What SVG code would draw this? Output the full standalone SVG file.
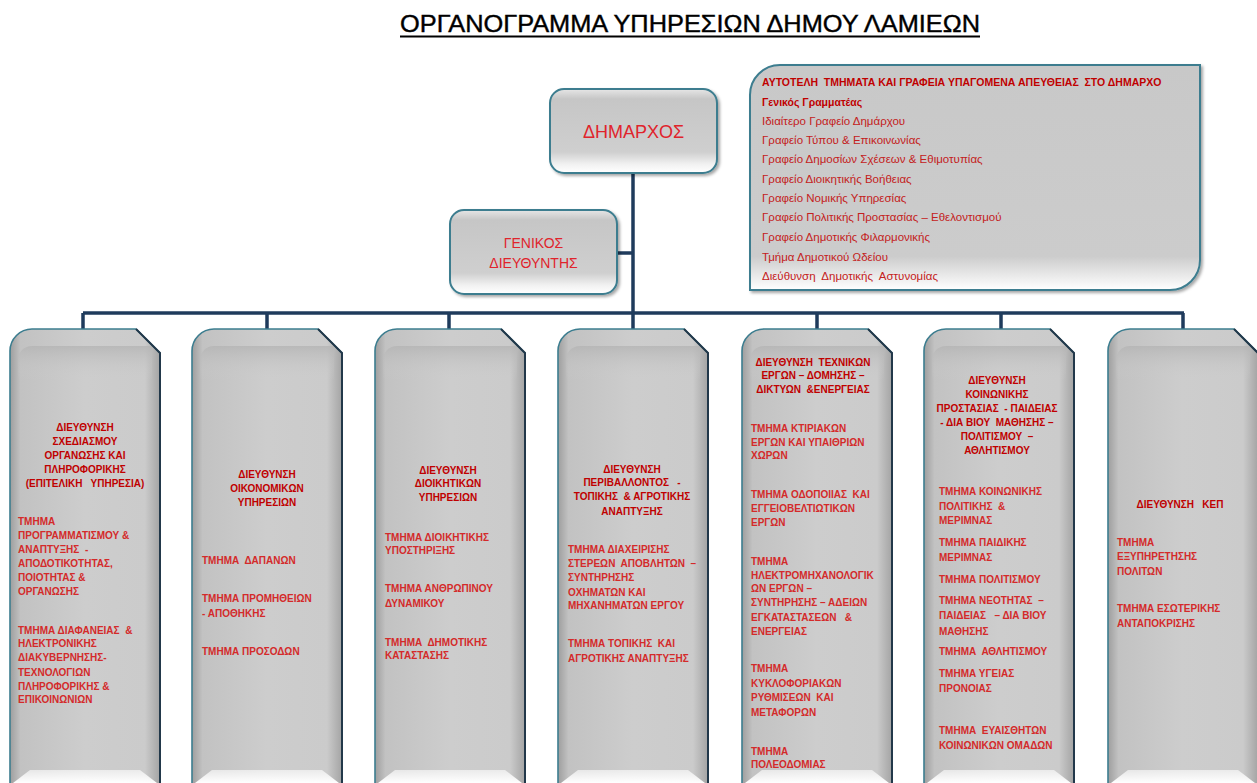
<svg xmlns="http://www.w3.org/2000/svg" width="1257" height="783" viewBox="0 0 1257 783">
<style>
text{font-family:"Liberation Sans",Arial,sans-serif;white-space:pre}
.title{font-size:24px;fill:#000;stroke:#000;stroke-width:0.4}
.top{font-size:18px;fill:#e0242c}
.gd{font-size:14px;fill:#e0242c}
.h{font-size:10px;font-weight:bold;fill:#c00000;text-anchor:middle}
.t{font-size:10px;font-weight:bold;fill:#d42a2a}
.rh{font-size:10.5px;font-weight:bold;fill:#c00000}
.ri{font-size:11.5px;fill:#c42020}
.box{fill:url(#gv);stroke:#3c7d8f;stroke-width:2}
.col{fill:url(#gh);stroke:#3c7d8f;stroke-width:1.6}
.re{fill:none;stroke:#22384a;stroke-width:2}
.cn{fill:none;stroke:#1f3b5c;stroke-width:3.5}
</style>
<defs>
<linearGradient id="gv" x1="0" y1="0" x2="0" y2="1">
<stop offset="0" stop-color="#e6e6e6"/><stop offset="0.12" stop-color="#c6c6c6"/><stop offset="0.75" stop-color="#cfcfcf"/><stop offset="0.9" stop-color="#f2f2f2"/><stop offset="1" stop-color="#ffffff"/>
</linearGradient>
<linearGradient id="gh" x1="0" y1="0" x2="1" y2="0">
<stop offset="0" stop-color="#9e9e9e"/><stop offset="0.07" stop-color="#c2c2c2"/><stop offset="0.5" stop-color="#cdcdcd"/><stop offset="0.9" stop-color="#cbcbcb"/><stop offset="1" stop-color="#a4a4a4"/>
</linearGradient>
<linearGradient id="gtop" x1="0" y1="0" x2="0" y2="1">
<stop offset="0" stop-color="#b4b4b4" stop-opacity="0.8"/><stop offset="1" stop-color="#cdcdcd" stop-opacity="0"/>
</linearGradient>
<linearGradient id="gbot" x1="0" y1="0" x2="0" y2="1">
<stop offset="0" stop-color="#ffffff" stop-opacity="0.6"/><stop offset="1" stop-color="#ffffff"/>
</linearGradient>
<linearGradient id="gr" x1="0" y1="0" x2="0" y2="1">
<stop offset="0" stop-color="#c8c8c8"/><stop offset="0.85" stop-color="#cccccc"/><stop offset="0.95" stop-color="#eeeeee"/><stop offset="1" stop-color="#ffffff"/>
</linearGradient>
<filter id="sh" x="-10%" y="-10%" width="130%" height="130%">
<feDropShadow dx="2" dy="2" stdDeviation="1.5" flood-color="#000" flood-opacity="0.35"/>
</filter>
</defs>
<rect width="1257" height="783" fill="#ffffff"/>
<g id="title">
<text class="title" x="400" y="32" textLength="580" lengthAdjust="spacingAndGlyphs">ΟΡΓΑΝΟΓΡΑΜΜΑ ΥΠΗΡΕΣΙΩΝ ΔΗΜΟΥ ΛΑΜΙΕΩΝ</text>
<line x1="400" y1="36.5" x2="980" y2="36.5" stroke="#000" stroke-width="2"/>
</g>
<g id="connectors">
<path class="cn" d="M633,174 V313"/>
<path class="cn" d="M617,253 H633"/>
<path class="cn" d="M83,313 H1184"/>
<path class="cn" d="M83,313 V329 M267,313 V329 M449,313 V329 M633,313 V329 M817,313 V329 M1001,313 V329 M1183,313 V329"/>
</g>
<g id="dimarxos">
<rect class="box" x="550" y="89" width="167" height="84" rx="14" filter="url(#sh)"/>
<text class="top" x="633.5" y="138" text-anchor="middle">ΔΗΜΑΡΧΟΣ</text>
</g>
<g id="genikos">
<rect class="box" x="450" y="210" width="167" height="84" rx="14" filter="url(#sh)"/>
<text class="gd" x="533.5" y="248" text-anchor="middle">ΓΕΝΙΚΟΣ</text>
<text class="gd" x="533.5" y="268" text-anchor="middle">ΔΙΕΥΘΥΝΤΗΣ</text>
</g>
<g id="autotelh">
<path d="M750,290 V95 A30,30 0 0 1 780,65 H1200 V260 A30,30 0 0 1 1170,290 Z" fill="url(#gr)" stroke="#3c7d8f" stroke-width="2" filter="url(#sh)"/>
<text class="rh" x="762" y="86">ΑΥΤΟΤΕΛΗ  ΤΜΗΜΑΤΑ ΚΑΙ ΓΡΑΦΕΙΑ ΥΠΑΓΟΜΕΝΑ ΑΠΕΥΘΕΙΑΣ  ΣΤΟ ΔΗΜΑΡΧΟ</text>
<text class="rh" x="762" y="106">Γενικός Γραμματέας</text>
<text class="ri" x="762" y="125">Ιδιαίτερο Γραφείο Δημάρχου</text>
<text class="ri" x="762" y="144">Γραφείο Τύπου &amp; Επικοινωνίας</text>
<text class="ri" x="762" y="163">Γραφείο Δημοσίων Σχέσεων &amp; Εθιμοτυπίας</text>
<text class="ri" x="762" y="183">Γραφείο Διοικητικής Βοήθειας</text>
<text class="ri" x="762" y="202">Γραφείο Νομικής Υπηρεσίας</text>
<text class="ri" x="762" y="221">Γραφείο Πολιτικής Προστασίας – Εθελοντισμού</text>
<text class="ri" x="762" y="241">Γραφείο Δημοτικής Φιλαρμονικής</text>
<text class="ri" x="762" y="261">Τμήμα Δημοτικού Ωδείου</text>
<text class="ri" x="762" y="280">Διεύθυνση  Δημοτικής  Αστυνομίας</text>
</g>
<g id="col1" transform="translate(10,0)">
<path class="col" d="M0,800 V351 A22,22 0 0 1 22,329 H126 L150,353 V800 Z"/>
<path d="M8,360 A14,14 0 0 1 22,346 H142 V380 H8 Z" fill="url(#gtop)"/>
<path class="re" d="M126,329 L150,353 V800"/>
<path d="M3,783 L20,770 H130 L147,783 Z" fill="url(#gbot)"/>
</g>
<g id="col1-text">
<text class="h" x="85" y="431">ΔΙΕΥΘΥΝΣΗ</text>
<text class="h" x="85" y="445">ΣΧΕΔΙΑΣΜΟΥ</text>
<text class="h" x="85" y="459">ΟΡΓΑΝΩΣΗΣ ΚΑΙ</text>
<text class="h" x="85" y="473">ΠΛΗΡΟΦΟΡΙΚΗΣ</text>
<text class="h" x="85" y="487">(ΕΠΙΤΕΛΙΚΗ   ΥΠΗΡΕΣΙΑ)</text>
<text class="t" x="18" y="525">ΤΜΗΜΑ</text>
<text class="t" x="18" y="539">ΠΡΟΓΡΑΜΜΑΤΙΣΜΟΥ &amp;</text>
<text class="t" x="18" y="553">ΑΝΑΠΤΥΞΗΣ  -</text>
<text class="t" x="18" y="567">ΑΠΟΔΟΤΙΚΟΤΗΤΑΣ,</text>
<text class="t" x="18" y="581">ΠΟΙΟΤΗΤΑΣ &amp;</text>
<text class="t" x="18" y="595">ΟΡΓΑΝΩΣΗΣ</text>
<text class="t" x="18" y="634">ΤΜΗΜΑ ΔΙΑΦΑΝΕΙΑΣ  &amp;</text>
<text class="t" x="18" y="647">ΗΛΕΚΤΡΟΝΙΚΗΣ</text>
<text class="t" x="18" y="661">ΔΙΑΚΥΒΕΡΝΗΣΗΣ-</text>
<text class="t" x="18" y="676">ΤΕΧΝΟΛΟΓΙΩΝ</text>
<text class="t" x="18" y="690">ΠΛΗΡΟΦΟΡΙΚΗΣ &amp;</text>
<text class="t" x="18" y="703">ΕΠΙΚΟΙΝΩΝΙΩΝ</text>
</g>
<g id="col2" transform="translate(192,0)">
<path class="col" d="M0,800 V351 A22,22 0 0 1 22,329 H126 L150,353 V800 Z"/>
<path d="M8,360 A14,14 0 0 1 22,346 H142 V380 H8 Z" fill="url(#gtop)"/>
<path class="re" d="M126,329 L150,353 V800"/>
<path d="M3,783 L20,770 H130 L147,783 Z" fill="url(#gbot)"/>
</g>
<g id="col2-text">
<text class="h" x="267" y="478">ΔΙΕΥΘΥΝΣΗ</text>
<text class="h" x="267" y="492">ΟΙΚΟΝΟΜΙΚΩΝ</text>
<text class="h" x="267" y="506">ΥΠΗΡΕΣΙΩΝ</text>
<text class="t" x="202" y="564">ΤΜΗΜΑ  ΔΑΠΑΝΩΝ</text>
<text class="t" x="202" y="602">ΤΜΗΜΑ ΠΡΟΜΗΘΕΙΩΝ</text>
<text class="t" x="202" y="617">- ΑΠΟΘΗΚΗΣ</text>
<text class="t" x="202" y="655">ΤΜΗΜΑ ΠΡΟΣΟΔΩΝ</text>
</g>
<g id="col3" transform="translate(375,0)">
<path class="col" d="M0,800 V351 A22,22 0 0 1 22,329 H126 L150,353 V800 Z"/>
<path d="M8,360 A14,14 0 0 1 22,346 H142 V380 H8 Z" fill="url(#gtop)"/>
<path class="re" d="M126,329 L150,353 V800"/>
<path d="M3,783 L20,770 H130 L147,783 Z" fill="url(#gbot)"/>
</g>
<g id="col3-text">
<text class="h" x="448" y="474">ΔΙΕΥΘΥΝΣΗ</text>
<text class="h" x="448" y="487">ΔΙΟΙΚΗΤΙΚΩΝ</text>
<text class="h" x="448" y="501">ΥΠΗΡΕΣΙΩΝ</text>
<text class="t" x="385" y="541">ΤΜΗΜΑ ΔΙΟΙΚΗΤΙΚΗΣ</text>
<text class="t" x="385" y="554">ΥΠΟΣΤΗΡΙΞΗΣ</text>
<text class="t" x="385" y="592">ΤΜΗΜΑ ΑΝΘΡΩΠΙΝΟΥ</text>
<text class="t" x="385" y="607">ΔΥΝΑΜΙΚΟΥ</text>
<text class="t" x="385" y="646">ΤΜΗΜΑ  ΔΗΜΟΤΙΚΗΣ</text>
<text class="t" x="385" y="659">ΚΑΤΑΣΤΑΣΗΣ</text>
</g>
<g id="col4" transform="translate(558,0)">
<path class="col" d="M0,800 V351 A22,22 0 0 1 22,329 H126 L150,353 V800 Z"/>
<path d="M8,360 A14,14 0 0 1 22,346 H142 V380 H8 Z" fill="url(#gtop)"/>
<path class="re" d="M126,329 L150,353 V800"/>
<path d="M3,783 L20,770 H130 L147,783 Z" fill="url(#gbot)"/>
</g>
<g id="col4-text">
<text class="h" x="632" y="473">ΔΙΕΥΘΥΝΣΗ</text>
<text class="h" x="632" y="486">ΠΕΡΙΒΑΛΛΟΝΤΟΣ   -</text>
<text class="h" x="632" y="500">ΤΟΠΙΚΗΣ  &amp; ΑΓΡΟΤΙΚΗΣ</text>
<text class="h" x="632" y="515">ΑΝΑΠΤΥΞΗΣ</text>
<text class="t" x="568" y="553">ΤΜΗΜΑ ΔΙΑΧΕΙΡΙΣΗΣ</text>
<text class="t" x="568" y="567">ΣΤΕΡΕΩΝ  ΑΠΟΒΛΗΤΩΝ  –</text>
<text class="t" x="568" y="581">ΣΥΝΤΗΡΗΣΗΣ</text>
<text class="t" x="568" y="596">ΟΧΗΜΑΤΩΝ ΚΑΙ</text>
<text class="t" x="568" y="609">ΜΗΧΑΝΗΜΑΤΩΝ ΕΡΓΟΥ</text>
<text class="t" x="568" y="647">ΤΜΗΜΑ ΤΟΠΙΚΗΣ  ΚΑΙ</text>
<text class="t" x="568" y="662">ΑΓΡΟΤΙΚΗΣ ΑΝΑΠΤΥΞΗΣ</text>
</g>
<g id="col5" transform="translate(742,0)">
<path class="col" d="M0,800 V351 A22,22 0 0 1 22,329 H126 L150,353 V800 Z"/>
<path d="M8,360 A14,14 0 0 1 22,346 H142 V380 H8 Z" fill="url(#gtop)"/>
<path class="re" d="M126,329 L150,353 V800"/>
<path d="M3,783 L20,770 H130 L147,783 Z" fill="url(#gbot)"/>
</g>
<g id="col5-text">
<text class="h" x="813" y="366">ΔΙΕΥΘΥΝΣΗ  ΤΕΧΝΙΚΩΝ</text>
<text class="h" x="813" y="379">ΕΡΓΩΝ – ΔΟΜΗΣΗΣ –</text>
<text class="h" x="813" y="393">ΔΙΚΤΥΩΝ  &amp;ΕΝΕΡΓΕΙΑΣ</text>
<text class="t" x="751" y="432">ΤΜΗΜΑ ΚΤΙΡΙΑΚΩΝ</text>
<text class="t" x="751" y="446">ΕΡΓΩΝ ΚΑΙ ΥΠΑΙΘΡΙΩΝ</text>
<text class="t" x="751" y="459">ΧΩΡΩΝ</text>
<text class="t" x="751" y="498">ΤΜΗΜΑ ΟΔΟΠΟΙΙΑΣ  ΚΑΙ</text>
<text class="t" x="751" y="512">ΕΓΓΕΙΟΒΕΛΤΙΩΤΙΚΩΝ</text>
<text class="t" x="751" y="526">ΕΡΓΩΝ</text>
<text class="t" x="751" y="565">ΤΜΗΜΑ</text>
<text class="t" x="751" y="579">ΗΛΕΚΤΡΟΜΗΧΑΝΟΛΟΓΙΚ</text>
<text class="t" x="751" y="592">ΩΝ ΕΡΓΩΝ –</text>
<text class="t" x="751" y="606">ΣΥΝΤΗΡΗΣΗΣ – ΑΔΕΙΩΝ</text>
<text class="t" x="751" y="621">ΕΓΚΑΤΑΣΤΑΣΕΩΝ   &amp;</text>
<text class="t" x="751" y="635">ΕΝΕΡΓΕΙΑΣ</text>
<text class="t" x="751" y="672">ΤΜΗΜΑ</text>
<text class="t" x="751" y="687">ΚΥΚΛΟΦΟΡΙΑΚΩΝ</text>
<text class="t" x="751" y="701">ΡΥΘΜΙΣΕΩΝ  ΚΑΙ</text>
<text class="t" x="751" y="716">ΜΕΤΑΦΟΡΩΝ</text>
<text class="t" x="751" y="755">ΤΜΗΜΑ</text>
<text class="t" x="751" y="768">ΠΟΛΕΟΔΟΜΙΑΣ</text>
</g>
<g id="col6" transform="translate(924,0)">
<path class="col" d="M0,800 V351 A22,22 0 0 1 22,329 H126 L150,353 V800 Z"/>
<path d="M8,360 A14,14 0 0 1 22,346 H142 V380 H8 Z" fill="url(#gtop)"/>
<path class="re" d="M126,329 L150,353 V800"/>
<path d="M3,783 L20,770 H130 L147,783 Z" fill="url(#gbot)"/>
</g>
<g id="col6-text">
<text class="h" x="997" y="384">ΔΙΕΥΘΥΝΣΗ</text>
<text class="h" x="997" y="398">ΚΟΙΝΩΝΙΚΗΣ</text>
<text class="h" x="997" y="412">ΠΡΟΣΤΑΣΙΑΣ  - ΠΑΙΔΕΙΑΣ</text>
<text class="h" x="997" y="426">- ΔΙΑ ΒΙΟΥ  ΜΑΘΗΣΗΣ –</text>
<text class="h" x="997" y="440">ΠΟΛΙΤΙΣΜΟΥ  –</text>
<text class="h" x="997" y="454">ΑΘΛΗΤΙΣΜΟΥ</text>
<text class="t" x="939" y="495">ΤΜΗΜΑ ΚΟΙΝΩΝΙΚΗΣ</text>
<text class="t" x="939" y="510">ΠΟΛΙΤΙΚΗΣ  &amp;</text>
<text class="t" x="939" y="524">ΜΕΡΙΜΝΑΣ</text>
<text class="t" x="939" y="546">ΤΜΗΜΑ ΠΑΙΔΙΚΗΣ</text>
<text class="t" x="939" y="561">ΜΕΡΙΜΝΑΣ</text>
<text class="t" x="939" y="583">ΤΜΗΜΑ ΠΟΛΙΤΙΣΜΟΥ</text>
<text class="t" x="939" y="604">ΤΜΗΜΑ ΝΕΟΤΗΤΑΣ  –</text>
<text class="t" x="939" y="619">ΠΑΙΔΕΙΑΣ   – ΔΙΑ ΒΙΟΥ</text>
<text class="t" x="939" y="635">ΜΑΘΗΣΗΣ</text>
<text class="t" x="939" y="655">ΤΜΗΜΑ  ΑΘΛΗΤΙΣΜΟΥ</text>
<text class="t" x="939" y="677">ΤΜΗΜΑ ΥΓΕΙΑΣ</text>
<text class="t" x="939" y="692">ΠΡΟΝΟΙΑΣ</text>
<text class="t" x="939" y="734">ΤΜΗΜΑ  ΕΥΑΙΣΘΗΤΩΝ</text>
<text class="t" x="939" y="749">ΚΟΙΝΩΝΙΚΩΝ ΟΜΑΔΩΝ</text>
</g>
<g id="col7" transform="translate(1108,0)">
<path class="col" d="M0,800 V351 A22,22 0 0 1 22,329 H126 L150,353 V800 Z"/>
<path d="M8,360 A14,14 0 0 1 22,346 H142 V380 H8 Z" fill="url(#gtop)"/>
<path class="re" d="M126,329 L150,353 V800"/>
<path d="M3,783 L20,770 H130 L147,783 Z" fill="url(#gbot)"/>
</g>
<g id="col7-text">
<text class="h" x="1180" y="508">ΔΙΕΥΘΥΝΣΗ   ΚΕΠ</text>
<text class="t" x="1117" y="546">ΤΜΗΜΑ</text>
<text class="t" x="1117" y="560">ΕΞΥΠΗΡΕΤΗΣΗΣ</text>
<text class="t" x="1117" y="575">ΠΟΛΙΤΩΝ</text>
<text class="t" x="1117" y="612">ΤΜΗΜΑ ΕΣΩΤΕΡΙΚΗΣ</text>
<text class="t" x="1117" y="627">ΑΝΤΑΠΟΚΡΙΣΗΣ</text>
</g>
</svg>
